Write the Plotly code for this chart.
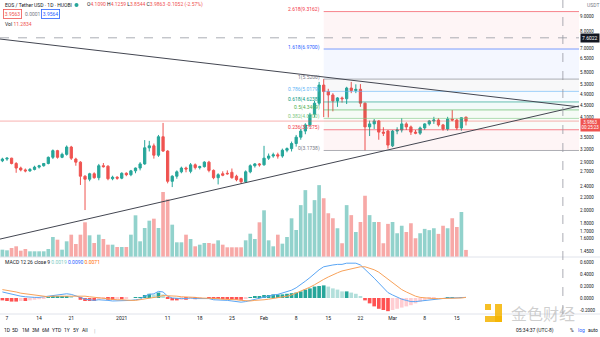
import numpy as np
import pandas as pd
import plotly.graph_objects as go

# ---------------- data ----------------
dates = pd.date_range("2020-12-06", "2021-03-17", freq="D")

open_ = [2.93, 2.97, 2.99, 2.87, 2.77, 2.73, 2.71, 2.74, 2.79, 2.82, 2.87, 3.01, 3.17, 3.01, 3.08, 3.26,
         2.97, 2.90, 2.60, 2.54, 2.65, 2.57, 2.82, 2.81, 2.55, 2.58,
         2.56, 2.66, 2.63, 2.71, 2.77, 2.86, 3.24, 3.29, 3.06, 3.53, 3.16, 2.50, 2.60, 2.69, 2.77, 2.70,
         2.84, 2.78, 2.80, 2.90, 2.72, 2.57, 2.65, 2.66, 2.68, 2.60, 2.55, 2.49, 2.69, 2.82, 2.86,
         2.84, 2.99, 3.04, 3.07, 3.04, 3.18, 3.22, 3.35, 3.52, 3.69, 3.87, 4.20, 4.58, 5.27, 5.01, 4.88,
         4.66, 4.77, 4.74, 5.15, 5.05, 5.10, 4.58, 3.81, 3.90, 3.99, 3.66, 3.69,
         3.29, 3.69, 3.72, 3.90, 3.81, 3.66, 3.63, 3.78, 3.90, 3.99, 4.02, 3.87, 3.75, 4.05, 4.02, 3.78, 4.1090]
high = [3.00, 3.01, 3.00, 2.90, 2.80, 2.76, 2.77, 2.82, 2.84, 2.88, 3.03, 3.20, 3.19, 3.12, 3.30, 3.29,
        3.00, 2.92, 2.62, 2.67, 2.68, 2.86, 2.88, 2.83, 2.61, 2.60,
        2.68, 2.68, 2.73, 2.78, 2.90, 3.44, 3.42, 3.35, 3.58, 3.93, 3.18, 2.62, 2.72, 2.80, 2.80, 2.88,
        2.87, 2.82, 2.92, 2.93, 2.74, 2.66, 2.70, 2.72, 2.76, 2.63, 2.57, 2.72, 2.85, 2.88, 2.88,
        3.29, 3.10, 3.12, 3.12, 3.22, 3.25, 3.40, 3.58, 3.75, 3.92, 4.25, 4.66, 5.40, 5.52, 5.12, 4.95,
        4.80, 4.82, 5.20, 5.40, 5.30, 5.31, 4.60, 4.00, 4.05, 4.02, 3.80, 3.72,
        3.72, 3.80, 4.08, 3.95, 3.85, 3.72, 3.82, 3.92, 4.02, 4.12, 4.08, 3.90, 4.12, 4.34, 4.06, 4.10, 4.1259]
low = [2.90, 2.93, 2.85, 2.67, 2.70, 2.68, 2.69, 2.72, 2.76, 2.80, 2.85, 2.97, 2.98, 2.99, 3.05, 2.95,
       2.82, 2.43, 2.00, 2.50, 2.55, 2.52, 2.78, 2.52, 2.52, 2.53,
       2.54, 2.60, 2.60, 2.66, 2.72, 2.84, 3.15, 2.98, 3.02, 3.14, 2.46, 2.39, 2.55, 2.66, 2.68, 2.66,
       2.74, 2.74, 2.78, 2.68, 2.54, 2.44, 2.60, 2.63, 2.55, 2.50, 2.45, 2.47, 2.66, 2.78, 2.80,
       2.82, 2.95, 3.00, 2.98, 3.00, 3.13, 3.15, 3.27, 3.45, 3.60, 3.80, 4.10, 4.50, 4.11, 4.10, 4.30,
       4.45, 4.60, 4.55, 4.95, 4.95, 4.45, 3.1738, 3.55, 3.75, 3.45, 3.55, 3.22,
       3.26, 3.60, 3.65, 3.72, 3.58, 3.60, 3.58, 3.72, 3.85, 3.90, 3.82, 3.70, 3.70, 3.98, 3.72, 3.70, 3.8544]
close = [2.97, 2.99, 2.87, 2.77, 2.73, 2.71, 2.74, 2.79, 2.82, 2.87, 3.01, 3.17, 3.01, 3.08, 3.26, 2.99,
         2.90, 2.60, 2.54, 2.65, 2.57, 2.82, 2.80, 2.55, 2.58, 2.56,
         2.66, 2.63, 2.71, 2.77, 2.86, 3.24, 3.29, 3.06, 3.53, 3.16, 2.50, 2.60, 2.69, 2.77, 2.75, 2.84,
         2.78, 2.80, 2.90, 2.72, 2.57, 2.63, 2.62, 2.65, 2.57, 2.53, 2.49, 2.69, 2.82, 2.86, 2.84,
         2.99, 3.04, 3.07, 3.04, 3.18, 3.22, 3.35, 3.52, 3.69, 3.87, 4.18, 4.58, 5.27, 5.01, 4.88, 4.66,
         4.77, 4.74, 5.15, 5.05, 5.10, 4.58, 3.81, 3.90, 3.99, 3.66, 3.63, 3.31,
         3.69, 3.72, 3.90, 3.81, 3.66, 3.63, 3.78, 3.90, 3.99, 4.02, 3.87, 3.75, 4.05, 4.02, 3.78, 4.0915, 3.9863]
volume = [11.7, 10.7, 14.4, 17.1, 10.1, 12.8, 9.1, 9.1, 9.1, 9.1, 12.8, 32.0, 27.7, 11.7, 25.1, 35.7,
          20.8, 35.7, 55.5, 34.7, 22.4, 35.7, 28.8, 19.7, 19.7, 16.0,
          16.0, 16.0, 35.7, 66.7, 25.1, 46.4, 58.1, 61.3, 46.4, 104.0, 92.3, 51.7, 23.5, 23.5, 35.7, 28.8,
          17.1, 19.7, 22.4, 22.4, 21.3, 26.7, 19.7, 15.5, 15.5, 15.5, 15.5, 26.7, 37.3, 28.8, 55.5,
          74.7, 26.7, 17.1, 35.7, 21.3, 32.0, 61.9, 43.2, 83.0, 107.0, 70.0, 91.0, 115.0, 94.0, 70.0, 62.0,
          46.0, 22.0, 83.0, 67.0, 40.0, 56.0, 98.0, 67.0, 56.0, 56.0, 22.0, 53.0,
          56.0, 38.0, 50.0, 40.0, 54.0, 30.0, 38.0, 45.0, 43.0, 46.0, 37.0, 50.0, 46.0, 62.0, 48.0, 72.0, 11.3]
macd = [0.10, 0.08, 0.06, 0.04, 0.03, 0.02, 0.01, 0.01, 0.01, 0.02, 0.03, 0.05, 0.05, 0.06, 0.07, 0.06,
        0.04, 0.01, -0.02, -0.03, -0.04, -0.03, -0.03, -0.04, -0.05, -0.05,
        -0.05, -0.05, -0.04, -0.03, -0.02, 0.03, 0.06, 0.07, 0.11, 0.10, 0.03, 0.00, -0.01, -0.01, -0.01, 0.00,
        -0.01, -0.01, 0.00, -0.01, -0.03, -0.03, -0.04, -0.04, -0.05, -0.06, -0.07, -0.06, -0.04, -0.02, -0.01,
        0.02, 0.03, 0.05, 0.06, 0.08, 0.10, 0.13, 0.17, 0.22, 0.28, 0.34, 0.41, 0.47, 0.52, 0.54, 0.55,
        0.56, 0.56, 0.58, 0.58, 0.58, 0.55, 0.48, 0.41, 0.33, 0.25, 0.17, 0.09,
        0.05, 0.01, -0.02, -0.04, -0.06, -0.06, -0.05, -0.04, -0.03, -0.02, -0.01, -0.01, 0.00, 0.00, 0.00, 0.01, 0.01]
signal = [0.14, 0.13, 0.12, 0.10, 0.08, 0.07, 0.05, 0.04, 0.03, 0.03, 0.02, 0.03, 0.03, 0.03, 0.04, 0.04,
          0.04, 0.04, 0.03, 0.02, 0.01, 0.00, -0.01, -0.01, -0.02, -0.03,
          -0.03, -0.04, -0.04, -0.04, -0.03, -0.02, -0.01, 0.01, 0.02, 0.04, 0.04, 0.04, 0.03, 0.02, 0.02, 0.01,
          0.01, 0.00, 0.00, 0.00, -0.01, -0.01, -0.02, -0.02, -0.03, -0.03, -0.04, -0.05, -0.05, -0.04, -0.04,
          -0.03, -0.02, -0.01, 0.00, 0.02, 0.03, 0.05, 0.08, 0.11, 0.14, 0.18, 0.22, 0.27, 0.31, 0.35, 0.39,
          0.42, 0.45, 0.47, 0.49, 0.51, 0.52, 0.52, 0.50, 0.47, 0.43, 0.37, 0.31,
          0.25, 0.19, 0.14, 0.10, 0.06, 0.03, 0.01, 0.00, -0.01, -0.01, -0.01, -0.01, -0.01, -0.01, 0.00, 0.00, 0.01]
hist = [-0.04, -0.05, -0.06, -0.06, -0.05, -0.05, -0.04, -0.03, -0.02, -0.01, 0.01, 0.02, 0.02, 0.03, 0.03, 0.02,
        0.00, -0.03, -0.05, -0.05, -0.05, -0.03, -0.02, -0.03, -0.03, -0.02,
        -0.02, -0.01, 0.00, 0.01, 0.01, 0.05, 0.07, 0.06, 0.09, 0.06, -0.01, -0.04, -0.04, -0.03, -0.03, -0.01,
        -0.02, -0.01, 0.00, -0.01, -0.02, -0.02, -0.02, -0.02, -0.02, -0.03, -0.03, -0.01, 0.01, 0.02, 0.03,
        0.05, 0.05, 0.06, 0.06, 0.06, 0.07, 0.08, 0.09, 0.11, 0.14, 0.16, 0.19, 0.20, 0.21, 0.19, 0.16,
        0.14, 0.11, 0.11, 0.09, 0.07, 0.03, -0.04, -0.09, -0.14, -0.18, -0.20, -0.22,
        -0.20, -0.18, -0.16, -0.14, -0.12, -0.09, -0.06, -0.04, -0.02, -0.01, 0.00, 0.00, 0.01, 0.01, 0.00, 0.01, 0.00]

FIB_LOW = 3.1738
FIB_HIGH = 5.5200
FIB_RATIOS = [0, 0.236, 0.382, 0.5, 0.618, 0.786, 1, 1.618, 2.618]
FIB_COLORS = ["#787B86", "#F23645", "#81C784", "#4CAF50", "#089981", "#64B5F6", "#787B86", "#2962FF", "#F23645"]
FIB_START = pd.Timestamp("2021-02-14")

TREND_DOWN_X = ["2020-12-05 11:27", "2021-04-10 14:53"]
TREND_DOWN_Y = [7.53, 4.45]
TREND_UP_X = ["2020-12-05 11:27", "2021-04-10 14:53"]
TREND_UP_Y = [1.597, 4.48]

CROSS_PRICE = 7.6022
CROSS_DATE = "2021-04-07 02:30"

price_ticks = [9.0, 8.0, 7.0, 6.5, 5.8, 5.3, 4.9, 4.5, 4.1, 3.5, 3.2, 2.9, 2.7, 2.4, 2.2, 2.0, 1.8, 1.7, 1.6, 1.45]
macd_ticks = [-0.2, 0.0, 0.2, 0.4, 0.6]
time_tick_dates = ["2020-12-07", "2020-12-14", "2020-12-21", "2021-01-01", "2021-01-11", "2021-01-18",
                   "2021-01-25", "2021-02-01", "2021-02-08", "2021-02-15", "2021-02-22", "2021-03-01",
                   "2021-03-08", "2021-03-15"]
time_tick_text = ["7", "14", "21", "2021", "11", "18", "25", "Feb", "8", "15", "22", "Mar", "8", "15"]

# ---------------- layout helpers ----------------
W, H = 600, 337
def fx(px):
    return px / W
def fy(py):
    return 1 - py / H

FONT = "Roboto"
TXT = "#131722"
UP = "#26A69A"
DN = "#EF5350"
X_START = pd.Timestamp("2020-12-05 11:27")
X_END = pd.Timestamp("2021-04-10 14:53")
DAY_MS = 86400000

fig = go.Figure()

# volume (base axis, drawn below)
vol_colors = ["rgba(38,166,154,0.5)" if c >= o else "rgba(239,83,80,0.5)" for o, c in zip(open_, close)]
fig.add_trace(go.Bar(x=dates, y=volume, marker_color=vol_colors, marker_line_width=0,
                     width=0.8 * DAY_MS, xaxis="x", yaxis="y", hoverinfo="skip"))

# fib fills and lines
levels = [FIB_LOW + r * (FIB_HIGH - FIB_LOW) for r in FIB_RATIOS]
def rgba(hexc, a):
    h = hexc.lstrip("#")
    return f"rgba({int(h[0:2],16)},{int(h[2:4],16)},{int(h[4:6],16)},{a})"
for k in range(1, len(levels)):
    fig.add_trace(go.Scatter(x=[FIB_START, X_END, X_END, FIB_START, FIB_START],
                             y=[levels[k-1], levels[k-1], levels[k], levels[k], levels[k-1]],
                             mode="lines", fill="toself", fillcolor=rgba(FIB_COLORS[k], 0.05),
                             line=dict(width=0), xaxis="x", yaxis="y3", hoverinfo="skip"))
for lev, col in zip(levels, FIB_COLORS):
    fig.add_trace(go.Scatter(x=[FIB_START, X_END], y=[lev, lev], mode="lines",
                             line=dict(color=rgba(col, 0.6), width=1), xaxis="x", yaxis="y3", hoverinfo="skip"))

# current price line and crosshair
fig.add_trace(go.Scatter(x=[X_START, X_END], y=[close[-1], close[-1]], mode="lines",
                         line=dict(color=rgba(DN, 0.45), width=1), xaxis="x", yaxis="y3", hoverinfo="skip"))
fig.add_trace(go.Scatter(x=[X_START, X_END], y=[CROSS_PRICE, CROSS_PRICE], mode="lines",
                         line=dict(color="#9598A1", width=0.8, dash="dash"), xaxis="x", yaxis="y3", hoverinfo="skip"))

# trend lines
fig.add_trace(go.Scatter(x=TREND_DOWN_X, y=TREND_DOWN_Y, mode="lines", line=dict(color="#434651", width=1),
                         xaxis="x", yaxis="y3", hoverinfo="skip"))
fig.add_trace(go.Scatter(x=TREND_UP_X, y=TREND_UP_Y, mode="lines", line=dict(color="#434651", width=1),
                         xaxis="x", yaxis="y3", hoverinfo="skip"))

# candles
fig.add_trace(go.Candlestick(x=dates, open=open_, high=high, low=low, close=close,
                             increasing=dict(line=dict(color=UP, width=1), fillcolor=UP),
                             decreasing=dict(line=dict(color=DN, width=1), fillcolor=DN),
                             whiskerwidth=0, xaxis="x", yaxis="y3", hoverinfo="skip"))

# MACD pane
hcols = []
prev = 0.0
for h in hist:
    if h >= 0:
        hcols.append("#26A69A" if h >= prev else "#B2DFDB")
    else:
        hcols.append("#FF5252" if h <= prev else "#FFCDD2")
    prev = h
fig.add_trace(go.Bar(x=dates, y=hist, marker_color=hcols, marker_line_width=0, width=0.8 * DAY_MS,
                     xaxis="x", yaxis="y2", hoverinfo="skip"))
fig.add_trace(go.Scatter(x=dates, y=macd, mode="lines", line=dict(color="#5AA6F5", width=1),
                         xaxis="x", yaxis="y2", hoverinfo="skip"))
fig.add_trace(go.Scatter(x=dates, y=signal, mode="lines", line=dict(color="#F8A25A", width=1),
                         xaxis="x", yaxis="y2", hoverinfo="skip"))

annotations = []
def ann(x, y, text, size=6, color=TXT, xanchor="left", yanchor="middle", family=FONT, **kw):
    d = dict(x=fx(x), y=fy(y), xref="paper", yref="paper", text=text, showarrow=False,
             font=dict(family=family, size=size, color=color), xanchor=xanchor, yanchor=yanchor)
    d.update(kw)
    annotations.append(d)

# fib labels
for r, lev, col in zip(FIB_RATIOS, levels, FIB_COLORS):
    annotations.append(dict(x=FIB_START - pd.Timedelta(hours=10), y=np.log10(lev), xref="x", yref="y3",
                            text=f"{r:g}({lev:.4f})", showarrow=False, xanchor="right", yanchor="middle",
                            yshift=2, font=dict(family=FONT, size=5, color=col)))

# header
chg = close[-1] - close[-2]
pct = chg / close[-2] * 100
red = "#EF5350"
ann(3, 5, "EOS / Tether USD · 1D · HUOBI", size=5)
ann(85, 5, f"O<span style='color:{red}'>{open_[-1]:.4f}</span> H<span style='color:{red}'>{high[-1]:.4f}</span> "
           f"L<span style='color:{red}'>{low[-1]:.4f}</span> C<span style='color:{red}'>{close[-1]:.4f}</span> "
           f"<span style='color:{red}'>{chg:+.4f} ({pct:+.2f}%)</span>", size=5)
ann(3, 14.5, "3.9563", size=5, color=red, bordercolor=red, borderwidth=0.8, borderpad=1)
ann(23, 14.5, "0.0001", size=5, color="#787B86")
ann(41, 14.5, "3.9564", size=5, color="#2962FF", bordercolor="#2962FF", borderwidth=0.8, borderpad=1)
ann(3, 24, f"Vol <span style='color:{red}'>11.2834</span>", size=5)
ann(3, 262, "MACD 12 26 close 9 <span style='color:#80CBC4'>0.0019</span> "
            "<span style='color:#2962FF'>0.0090</span> <span style='color:#FF6D00'>0.0071</span>", size=5)
ann(585, 5, "USDT", size=5, color="#787B86")

# price boxes on the scale
annotations.append(dict(x=fx(580), y=np.log10(close[-1]), xref="paper", yref="y3",
                        text=f"{close[-1]:.4f}<br>00:25:23", showarrow=False, xanchor="left", yanchor="middle",
                        yshift=-4, bgcolor=DN, font=dict(family=FONT, size=4.5, color="white"), borderpad=0.5))
annotations.append(dict(x=fx(580), y=np.log10(CROSS_PRICE), xref="paper", yref="y3",
                        text=f"{CROSS_PRICE:.4f}", showarrow=False, xanchor="left", yanchor="middle",
                        bgcolor="#131722", font=dict(family=FONT, size=5, color="white"), borderpad=1))

# bottom toolbar
for t, x in zip(["1D", "5D", "1M", "3M", "6M", "YTD", "1Y", "5Y", "All"], [7, 15, 25, 35, 45, 56, 67, 76, 85]):
    ann(x, 330, t, size=5, xanchor="center")
ann(94, 330, "|", size=6, color="#B2B5BE", xanchor="center")
ann(535, 330, "05:34:37 (UTC-8)", size=5, xanchor="center")
ann(572, 330, "%", size=5, xanchor="center")
ann(581, 330, "log", size=5, color="#2962FF", xanchor="center")
ann(593, 330, "auto", size=5, xanchor="center")

# watermark
ann(543, 313, "金色财经", size=16, color="rgba(160,160,160,0.5)", xanchor="center", family="Noto Sans CJK SC")

shapes = [
    dict(type="line", xref="paper", yref="paper", x0=0, x1=1, y0=fy(257), y1=fy(257), line=dict(color="#E0E3EB", width=1)),
    dict(type="line", xref="paper", yref="paper", x0=0, x1=1, y0=fy(314), y1=fy(314), line=dict(color="#E0E3EB", width=1)),
    dict(type="line", xref="x", yref="paper", x0=CROSS_DATE, x1=CROSS_DATE, y0=fy(314), y1=1,
         line=dict(color="#9598A1", width=0.8, dash="dash")),
    # watermark logo
    dict(type="rect", xref="paper", yref="paper", x0=fx(485), x1=fx(491), y0=fy(310), y1=fy(304),
         fillcolor="rgba(245,180,0,0.85)", line=dict(width=0)),
    dict(type="rect", xref="paper", yref="paper", x0=fx(495), x1=fx(502), y0=fy(322), y1=fy(304),
         fillcolor="rgba(245,180,0,0.85)", line=dict(width=0)),
    dict(type="rect", xref="paper", yref="paper", x0=fx(485), x1=fx(502), y0=fy(322), y1=fy(316),
         fillcolor="rgba(245,180,0,0.85)", line=dict(width=0)),
    # legend dot
    dict(type="circle", xref="paper", yref="paper", x0=fx(74.5), x1=fx(78.5), y0=fy(7), y1=fy(3),
         fillcolor="#26A69A", line=dict(width=0)),
]

fig.update_layout(
    width=W, height=H, margin=dict(l=0, r=0, t=0, b=0),
    paper_bgcolor="white", plot_bgcolor="white", showlegend=False, barmode="overlay",
    font=dict(family=FONT, size=6, color=TXT),
    xaxis=dict(domain=[0, fx(579)], range=[X_START, X_END], type="date", anchor="y2",
               rangeslider=dict(visible=False), showgrid=False, zeroline=False, showline=False,
               tickvals=time_tick_dates, ticktext=time_tick_text, ticks="", tickfont=dict(size=5, color=TXT)),
    yaxis=dict(domain=[fy(257), 1], range=[0, 257 * 1.6], visible=False, anchor="x"),
    yaxis3=dict(overlaying="y", side="right", anchor="x", type="log",
                range=[np.log10(1.39), np.log10(10.19)], showgrid=False, zeroline=False, showline=False,
                tickvals=price_ticks, ticktext=[f"{v:.4f}" for v in price_ticks], ticks="",
                tickfont=dict(size=4.5, color=TXT)),
    yaxis2=dict(domain=[fy(314), fy(257)], range=[-0.267, 0.683], side="right", anchor="x",
                showgrid=False, zeroline=False, showline=False,
                tickvals=macd_ticks, ticktext=[f"{v:.4f}" for v in macd_ticks], ticks="",
                tickfont=dict(size=4.5, color=TXT)),
    annotations=annotations, shapes=shapes,
)

fig.write_html("out.html")
